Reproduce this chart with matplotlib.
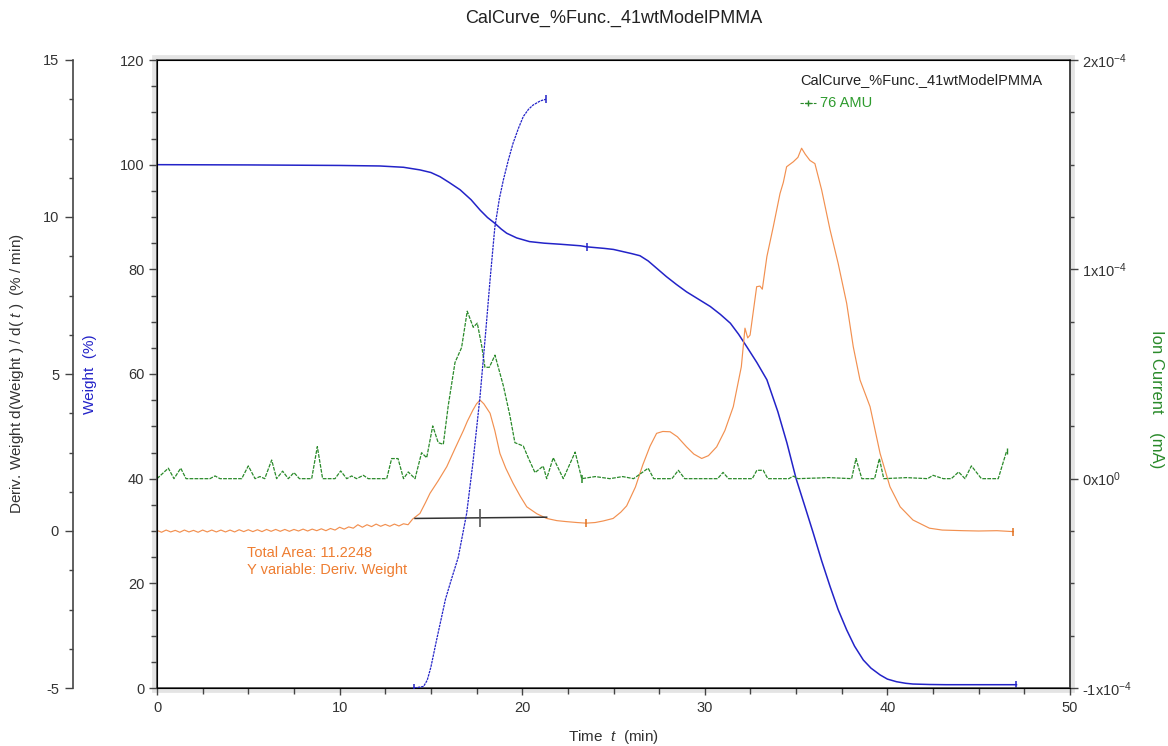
import numpy as np
import matplotlib
matplotlib.use('Agg')
import matplotlib.pyplot as plt
from matplotlib.ticker import MultipleLocator, FixedLocator, FuncFormatter
from matplotlib.patches import Rectangle
from matplotlib.lines import Line2D

plt.rcParams['font.family'] = ['Liberation Sans', 'DejaVu Sans']
plt.rcParams['mathtext.fontset'] = 'custom'
plt.rcParams['mathtext.rm'] = 'Liberation Sans'
plt.rcParams['mathtext.it'] = 'Liberation Sans:italic'
plt.rcParams['mathtext.default'] = 'regular'
plt.rcParams['axes.unicode_minus'] = False

# ---------------- data ----------------
title_text = "CalCurve_%Func._41wtModelPMMA"

# Weight (%) vs time (min)
weight_t = [0, 5, 10, 12.2, 13.5, 14.4, 15.0, 15.5, 16.0, 16.6, 17.2, 17.7, 18.1, 18.5,
            18.85, 19.15, 19.7, 20.4, 21.2, 22.07, 23.2, 23.53, 24.5, 25.0, 25.5, 26.0,
            26.45, 26.9, 27.4, 27.9, 28.45, 29.0, 29.65, 30.3, 30.85, 31.4, 31.85, 32.3,
            32.85, 33.4, 34.0, 34.5, 35.0, 35.5, 35.94, 36.4, 36.86, 37.3, 37.77, 38.2,
            38.68, 39.1, 39.6, 40.0, 40.5, 41.0, 41.4, 42.3, 43.2, 45.0, 47.07]
weight_v = [100.0, 99.95, 99.85, 99.75, 99.5, 99.0, 98.5, 97.7, 96.6, 95.2, 93.3, 91.3,
            89.9, 88.8, 87.7, 86.9, 86.0, 85.3, 85.0, 84.8, 84.5, 84.3, 84.0, 83.8, 83.4,
            83.0, 82.6, 81.6, 80.1, 78.6, 77.1, 75.7, 74.3, 72.9, 71.4, 69.7, 67.6, 65.2,
            62.2, 58.9, 52.8, 46.8, 40.0, 34.5, 29.6, 24.3, 19.4, 15.0, 11.1, 8.0,
            5.35, 3.8, 2.5, 1.7, 1.2, 0.9, 0.76, 0.67, 0.63, 0.63, 0.63]
weight_marks = [0, 23.53, 47.07]

# Cumulative (rising) curve, on weight scale
cum_t = [14.1, 14.6, 14.8, 15.0, 15.3, 15.55, 15.8, 16.1, 16.5, 16.96, 17.3, 17.69, 18.0,
         18.24, 18.5, 18.75, 18.97, 19.25, 19.5, 19.8, 20.06, 20.35, 20.6, 21.0, 21.3]
cum_v = [0.0, 0.3, 1.5, 4.0, 9.0, 13.0, 17.0, 20.5, 25.0, 33.4, 43.0, 55.7, 68.0,
         78.0, 88.0, 93.5, 97.1, 101.0, 104.1, 107.0, 109.2, 110.6, 111.4, 112.2, 112.5]
cum_marks = [14.1, 21.3]

# Deriv. Weight (%/min)
deriv_t = [0.0, 0.25, 0.5, 0.75, 1.0, 1.25, 1.5, 1.75, 2.0, 2.25, 2.5, 2.75, 3.0, 3.25,
           3.5, 3.75, 4.0, 4.25, 4.5, 4.75, 5.0, 5.25, 5.5, 5.75, 6.0, 6.25, 6.5, 6.75,
           7.0, 7.25, 7.5, 7.75, 8.0, 8.25, 8.5, 8.75, 9.0, 9.25, 9.5, 9.75, 10.0, 10.25,
           10.5, 10.75, 11.0, 11.25, 11.5, 11.75, 12.0, 12.25, 12.5, 12.75, 13.0, 13.25,
           13.5, 13.75, 14.0, 14.4, 14.7, 14.95, 15.4, 15.87, 16.3, 16.78, 17.0, 17.3,
           17.5, 17.69, 17.9, 18.24, 18.5, 18.78, 19.1, 19.5, 19.9, 20.25, 20.8, 21.34,
           21.9, 22.4, 23.0, 23.5, 24.0, 24.44, 24.98, 25.4, 25.72, 26.2, 26.6, 27.0,
           27.36, 27.7, 28.1, 28.5, 29.0, 29.4, 29.83, 30.2, 30.65, 31.1, 31.56, 32.0,
           32.2, 32.35, 32.48, 32.84, 33.02, 33.15, 33.4, 33.75, 34.12, 34.3, 34.48,
           34.85, 35.1, 35.3, 35.5, 35.76, 36.03, 36.4, 36.86, 37.3, 37.77, 38.13, 38.5,
           39.05, 39.6, 40.14, 40.7, 41.4, 42.3, 43.0, 44.16, 45.0, 46.0, 46.9]
deriv_v = [0.02, -0.04, 0.03, -0.03, 0.02, -0.04, 0.03, -0.03, 0.02, -0.04, 0.03, -0.03,
           0.03, -0.03, 0.03, -0.03, 0.03, -0.03, 0.04, -0.02, 0.04, -0.02, 0.04, -0.02,
           0.05, -0.01, 0.05, -0.01, 0.05, -0.01, 0.05, 0.0, 0.06, 0.0, 0.06, 0.01,
           0.07, 0.01, 0.08, 0.03, 0.12, 0.06, 0.13, 0.09, 0.2, 0.12, 0.2, 0.14, 0.22,
           0.15, 0.21, 0.15, 0.22, 0.16, 0.23, 0.2, 0.38, 0.56, 0.9, 1.2, 1.6, 2.05, 2.6,
           3.2, 3.5, 3.85, 4.05, 4.17, 4.05, 3.75, 3.2, 2.47, 2.0, 1.52, 1.1, 0.77, 0.55,
           0.4, 0.33, 0.3, 0.27, 0.25, 0.27, 0.32, 0.4, 0.6, 0.8, 1.4, 2.1, 2.7, 3.11,
           3.17, 3.16, 3.0, 2.68, 2.45, 2.31, 2.4, 2.68, 3.2, 3.96, 5.23, 6.46, 6.15,
           6.24, 7.78, 7.8, 7.7, 8.74, 9.69, 10.75, 11.1, 11.6, 11.76, 11.9, 12.19,
           12.0, 11.8, 11.7, 10.86, 9.59, 8.53, 7.25, 5.87, 4.81, 3.96, 2.47, 1.41,
           0.77, 0.35, 0.09, 0.03, 0.01, 0.0, 0.01, -0.02]
deriv_marks = [0, 23.5, 46.9]

# Ion current 76 AMU (units of 1e-4 mA)
ion_t = [0, 0.62, 0.93, 1.3, 1.59, 2.9, 3.18, 3.45, 4.64, 5.0, 5.37, 5.64, 5.9, 6.28,
         6.55, 6.88, 7.19, 7.5, 7.8, 8.47, 8.78, 9.07, 9.75, 10.06, 10.39, 10.66, 10.93,
         11.3, 11.57, 12.58, 12.85, 13.2, 13.5, 13.76, 14.13, 14.49, 14.77, 15.1, 15.4,
         15.68, 15.95, 16.32, 16.68, 16.99, 17.32, 17.54, 17.78, 17.96, 18.2, 18.51,
         18.97, 19.33, 19.6, 20.06, 20.33, 20.7, 21.15, 21.34, 21.7, 22.25, 22.9, 23.26,
         24.0, 24.8, 25.5, 26.1, 26.9, 27.2, 28.2, 28.55, 28.9, 30.7, 31.0, 31.3, 32.6,
         32.85, 33.2, 33.45, 34.6, 34.85, 35.1, 36.8, 38.04, 38.28, 38.6, 39.3, 39.56,
         39.8, 41.05, 42.2, 42.5, 43.06, 43.5, 43.9, 44.25, 44.6, 45.15, 46.07, 46.53]
ion_v = [0.0, 0.05, 0.0, 0.05, 0.0, 0.0, 0.013, 0.0, 0.0, 0.061, 0.0, 0.01, 0.0, 0.089,
         0.0, 0.036, 0.0, 0.029, 0.0, 0.0, 0.153, 0.0, 0.0, 0.037, 0.0, 0.013, 0.0,
         0.016, 0.0, 0.0, 0.096, 0.096, 0.0, 0.032, 0.0, 0.124, 0.10, 0.252, 0.172,
         0.164, 0.349, 0.555, 0.626, 0.80, 0.723, 0.743, 0.635, 0.532, 0.532, 0.59,
         0.443, 0.30, 0.172, 0.156, 0.10, 0.029, 0.06, 0.0, 0.10, 0.0, 0.127, 0.0,
         0.01, 0.0, 0.01, 0.0, 0.05, 0.0, 0.0, 0.04, 0.0, 0.0, 0.03, 0.0, 0.0,
         0.04, 0.04, 0.0, 0.0, 0.012, 0.0, 0.005, 0.0, 0.096, 0.0, 0.0, 0.096,
         0.0, 0.005, 0.0, 0.016, 0.0, 0.0, 0.032, 0.0, 0.061, 0.0, 0.0, 0.132]
ion_marks = [0, 23.26]

# Integration baseline (deriv axis)
base_t = [14.13, 21.34]
base_v = [0.40, 0.44]
base_mark_t = 17.69

area_lines = ["Total Area: 11.2248", "Y variable: Deriv. Weight"]
legend_title = "CalCurve_%Func._41wtModelPMMA"
legend_series = "76 AMU"

ion_ticks = [-1e-4, 0.0, 1e-4, 2e-4]
ion_ticklabels = ["-1x10$^{-4}$", "0x10$^{0}$", "1x10$^{-4}$", "2x10$^{-4}$"]

# ---------------- style ----------------
C_BLUE = '#2323c8'
C_ORANGE = '#f29050'
C_GREEN = '#2a8a2a'
C_TEXT = '#333333'
FS = 10.5
FSL = 11

W, H = 1168, 746
fig = plt.figure(figsize=(W / 100, H / 100), dpi=100)
L, R, T, B = 157, 1070, 60, 688
ax = fig.add_axes([L / W, 1 - B / H, (R - L) / W, (B - T) / H])

# gray shadow frame
fig.patches.append(Rectangle((L / W, 1 - B / H), (R - L) / W, (B - T) / H,
                             transform=fig.transFigure, fill=False,
                             edgecolor='#e4e4e4', linewidth=7, zorder=-5))

axd = ax.twinx()
axi = ax.twinx()
axc = ax.twinx()

# weight axis (inner left)
ax.set_xlim(0, 50)
ax.set_ylim(0, 120)
ax.plot(weight_t, weight_v, color=C_BLUE, lw=1.1)
ax.plot(weight_marks, np.interp(weight_marks, weight_t, weight_v), ls='none',
        marker='|', ms=6, mew=1.1, color=C_BLUE)
ax.yaxis.set_major_locator(MultipleLocator(20))
ax.yaxis.set_minor_locator(MultipleLocator(5))
ax.xaxis.set_major_locator(MultipleLocator(10))
ax.xaxis.set_minor_locator(MultipleLocator(2.5))
ax.tick_params(axis='y', which='major', direction='out', length=6, width=1,
               labelsize=FS, colors='#444444', labelcolor=C_TEXT, pad=3)
ax.tick_params(axis='y', which='minor', direction='out', length=4, width=1, colors='#444444')
ax.tick_params(axis='x', which='major', direction='out', length=5, width=1,
               labelsize=FS, colors='#444444', labelcolor=C_TEXT, pad=4)
ax.tick_params(axis='x', which='minor', direction='out', length=4, width=1, colors='#444444')
ax.set_ylabel('Weight  (%)', color=C_BLUE, fontsize=FSL)
ax.yaxis.label.set_va('center')
ax.yaxis.set_label_coords(-0.073, 0.50)
ax.set_xlabel('Time  $\\mathit{t}$  (min)', color=C_TEXT, fontsize=FSL)
ax.xaxis.label.set_va('center')
ax.xaxis.set_label_coords(0.5, -0.078)
for s in ax.spines.values():
    s.set_color('#444444')
    s.set_linewidth(1.2)

# deriv axis (outer left)
axd.set_ylim(-5, 15)
axd.spines['right'].set_visible(False)
axd.spines['top'].set_visible(False)
axd.spines['bottom'].set_visible(False)
axd.spines['left'].set_visible(True)
axd.spines['left'].set_position(('outward', 84 * 0.72))
axd.spines['left'].set_color('#444444')
axd.spines['left'].set_linewidth(1.2)
axd.yaxis.set_ticks_position('left')
axd.yaxis.set_label_position('left')
axd.yaxis.set_major_locator(MultipleLocator(5))
axd.yaxis.set_minor_locator(MultipleLocator(1.25))
axd.tick_params(axis='y', which='major', direction='out', length=6, width=1,
                labelsize=FS, colors='#444444', labelcolor=C_TEXT, pad=4)
axd.tick_params(axis='y', which='minor', direction='out', length=3, width=1, colors='#444444')
axd.set_ylabel('Deriv. Weight d(Weight ) / d( $\\mathit{t}$ )  (% / min)', color=C_TEXT,
               fontsize=FSL)
axd.yaxis.label.set_va('center')
axd.yaxis.set_label_coords(-0.153, 0.50)
axd.plot(deriv_t, deriv_v, color=C_ORANGE, lw=0.85)
axd.plot(deriv_marks, np.interp(deriv_marks, deriv_t, deriv_v), ls='none',
         marker='|', ms=6, mew=1.1, color='#e0701e')
axd.plot(base_t, base_v, color='#333333', lw=1.1)
axd.plot([base_mark_t], [np.interp(base_mark_t, base_t, base_v)], ls='none',
         marker='|', ms=13, mew=1.2, color='#555555')
axd.text(4.93, -0.70, area_lines[0], color='#ee7d31', fontsize=FS, ha='left', va='center')
axd.text(4.93, -1.24, area_lines[1], color='#ee7d31', fontsize=FS, ha='left', va='center')

# ion current axis (right)
ion_scaled = [v * 1e-4 for v in ion_v]
axi.set_ylim(-1e-4, 2e-4)
axi.plot(ion_t, ion_scaled, color=C_GREEN, lw=0.9, ls=(0, (3, 1)))
axi.plot(ion_marks, np.interp(ion_marks, ion_t, ion_scaled), ls='none',
         marker='|', ms=6, mew=1.1, color=C_GREEN)
axi.plot([ion_t[-1]], [ion_scaled[-1]], ls='none', marker='|', ms=5, mew=1.0, color=C_GREEN)
axi.yaxis.set_major_locator(FixedLocator(ion_ticks))
axi.yaxis.set_major_formatter(FuncFormatter(
    lambda v, p: ion_ticklabels[int(np.argmin([abs(v - t) for t in ion_ticks]))]))
axi.yaxis.set_minor_locator(MultipleLocator(0.25e-4))
axi.tick_params(axis='y', which='major', direction='out', length=6, width=1,
                labelsize=FS, colors='#444444', labelcolor=C_TEXT, pad=3)
axi.tick_params(axis='y', which='minor', direction='out', length=3, width=1, colors='#444444')
axi.spines['right'].set_color('#444444')
axi.spines['right'].set_linewidth(1.2)
axi.set_ylabel('Ion Current    (mA)', color=C_GREEN, fontsize=12, rotation=-90, va='center')
axi.yaxis.set_label_coords(1.095, 0.46)

# cumulative curve on top
axc.set_ylim(0, 120)
axc.axis('off')
axc.plot(cum_t, cum_v, color=C_BLUE, lw=0.9, ls=(0, (2, 0.7)))
axc.plot(cum_marks, np.interp(cum_marks, cum_t, cum_v), ls='none',
         marker='|', ms=6, mew=1.1, color=C_BLUE)

# legend-like text
ax.text(0.7045, 0.968, legend_title, transform=ax.transAxes, color='#222222',
        fontsize=FS, ha='left', va='center')
axc.add_line(Line2D([0.7045, 0.7131, 0.7218], [0.9315, 0.9315, 0.9315],
                    transform=ax.transAxes, color=C_GREEN, lw=0.8, ls=(0, (3, 1)),
                    marker='+', markevery=[1], ms=5))
ax.text(0.7262, 0.9315, legend_series, transform=ax.transAxes, color='#2e9b2e',
        fontsize=FS, ha='left', va='center')

fig.text(613.5 / W, 1 - 18 / H, title_text, ha='center', va='center', fontsize=13,
         color='#222222')

fig.savefig('out.png', dpi=100)
